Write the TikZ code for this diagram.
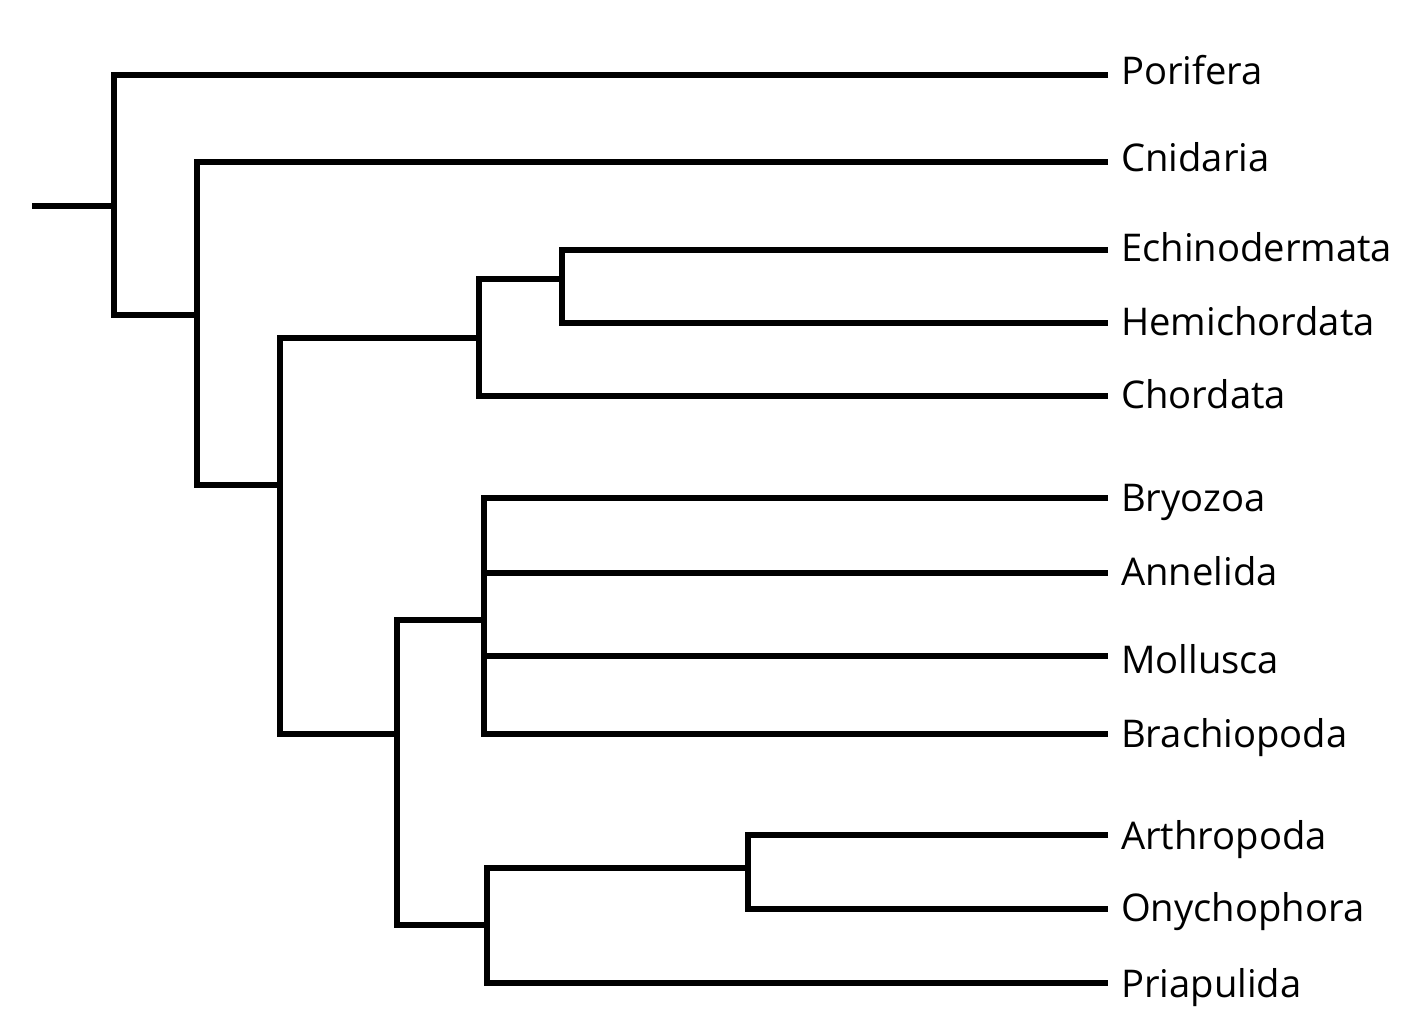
\documentclass[tikz,border=0pt]{standalone}
\usepackage{fontspec}
\setmainfont{Open Sans}
\begin{document}
\begin{tikzpicture}[x=1pt,y=-1pt,
  branch/.style={line width=5.5pt,line join=miter,line cap=butt,black},
  taxon/.style={anchor=base west,inner sep=0pt,font=\fontsize{38.2}{42}\selectfont}]
\useasboundingbox (0,0) rectangle (1409,1032);
% leaf end x and label x
\def\lx{1108}
\def\tx{1121}
% leaves (ends of branches) and labels: name / line y / baseline offset / text
\foreach \n/\y/\d/\t in {por/75/9.8/Porifera,cni/162/9.8/Cnidaria,ech/250/11.8/Echinodermata,hem/323/12.8/Hemichordata,cho/396/12.8/Chordata,bry/498/13.5/Bryozoa,ann/573/12.5/Annelida,mol/656/17.5/Mollusca,bra/734/13.5/Brachiopoda,art/835/14.5/Arthropoda,ony/909/12.5/Onychophora,pri/983/14.3/Priapulida}{
  \coordinate (\n) at (\lx,\y);
  \node[taxon] (\n-lab) at (\tx,\y+\d) {\t};
}
% internal nodes
\coordinate (root) at (32,206);
\coordinate (Atop) at (114,75);  \coordinate (Amid) at (114,206); \coordinate (Abot) at (114,315);
\coordinate (Btop) at (197,162); \coordinate (Bmid) at (197,315); \coordinate (Bbot) at (197,485);
\coordinate (Ctop) at (280,338); \coordinate (Cmid) at (280,485); \coordinate (Cbot) at (280,734);
\coordinate (Dtop) at (479,279); \coordinate (Dmid) at (479,338); \coordinate (Dbot) at (479,396);
\coordinate (Etop) at (562,250); \coordinate (Emid) at (562,279); \coordinate (Ebot) at (562,323);
\coordinate (Ftop) at (397,620); \coordinate (Fmid) at (397,734); \coordinate (Fbot) at (397,925);
\coordinate (Gtop) at (484,498); \coordinate (Gmid) at (484,620); \coordinate (Gbot) at (484,734);
\coordinate (Ga) at (484,573);   \coordinate (Gm) at (484,656);
\coordinate (Htop) at (487,868); \coordinate (Hmid) at (487,925); \coordinate (Hbot) at (487,983);
\coordinate (Itop) at (748,835); \coordinate (Imid) at (748,868); \coordinate (Ibot) at (748,909);
% branches
\draw[branch] (root) -- (Amid);
\draw[branch] (por) -- (Atop) -- (Abot) -- (Bmid);
\draw[branch] (cni) -- (Btop) -- (Bbot) -- (Cmid);
\draw[branch] (Dmid) -- (Ctop) -- (Cbot) -- (Fmid);
\draw[branch] (Emid) -- (Dtop) -- (Dbot) -- (cho);
\draw[branch] (ech) -- (Etop) -- (Ebot) -- (hem);
\draw[branch] (Gmid) -- (Ftop) -- (Fbot) -- (Hmid);
\draw[branch] (bry) -- (Gtop) -- (Gbot) -- (bra);
\draw[branch] (Ga) -- (ann);
\draw[branch] (Gm) -- (mol);
\draw[branch] (Imid) -- (Htop) -- (Hbot) -- (pri);
\draw[branch] (art) -- (Itop) -- (Ibot) -- (ony);
\end{tikzpicture}
\end{document}
